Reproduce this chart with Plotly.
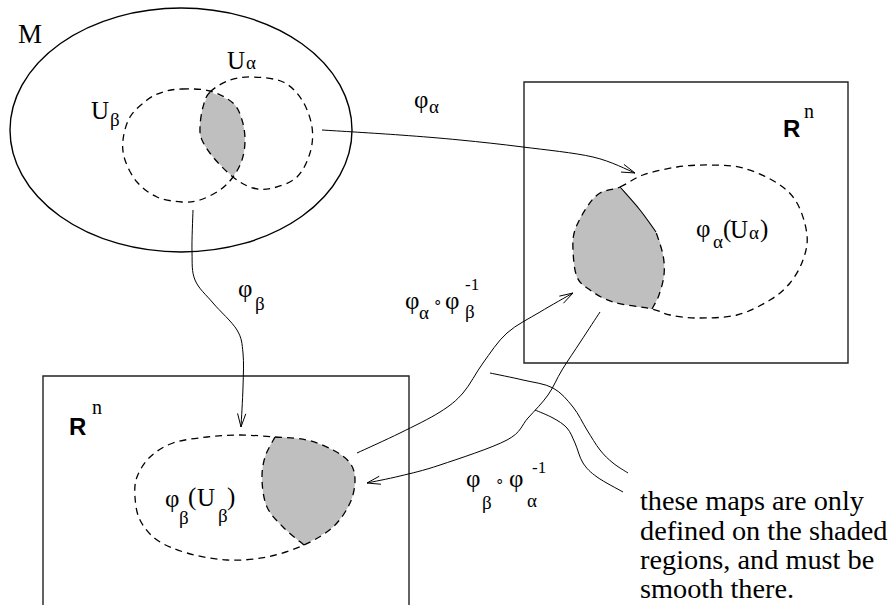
import numpy as np
import plotly.graph_objects as go

W, H = 893, 605

# ---------------- geometry (pixel coords, y down) -------------
M_ELLIPSE = [10, 8, 352, 252]          # x0, y0, x1, y1 of manifold M
BOX_RIGHT = [524, 82, 848, 363]
BOX_LEFT = [43, 376, 409, 640]

U_BETA_X = [182, 210, 233, 242, 245, 242, 233, 220, 200, 182, 157, 137, 125, 123, 130, 147, 163]
U_BETA_Y = [89, 91, 103, 120, 140, 160, 177, 190, 200, 202, 197, 182, 160, 140, 117, 100, 92]

U_ALPHA_X = [210, 230, 253, 283, 302, 312, 310, 297, 273, 253, 233, 213, 202, 200, 203]
U_ALPHA_Y = [92, 80, 77, 82, 100, 127, 153, 177, 188, 188, 177, 157, 140, 127, 107]

LENS_A_X = [210, 203, 200, 202, 213, 233]
LENS_A_Y = [92, 107, 127, 140, 157, 177]
LENS_B_X = [233, 242, 245, 242, 233, 210]
LENS_B_Y = [177, 160, 140, 120, 103, 92]

PHIA_X = [620, 643, 677, 710, 743, 777, 797, 807, 803, 790, 770, 737, 697, 670, 652, 613, 590, 577, 573, 575, 587, 600]
PHIA_Y = [187, 175, 167, 165, 168, 183, 203, 235, 260, 283, 300, 315, 318, 315, 309, 302, 290, 277, 250, 230, 207, 193]
PHIA_SHADE_OUT_X = [620, 600, 587, 575, 573, 577, 590, 613, 652]
PHIA_SHADE_OUT_Y = [187, 193, 207, 230, 250, 277, 290, 302, 309]
PHIA_SHADE_IN_X = [652, 659, 664, 663, 656, 640, 620]
PHIA_SHADE_IN_Y = [309, 295, 275, 255, 232, 210, 187]

PHIB_X = [275, 307, 333, 350, 355, 350, 333, 304, 267, 227, 187, 157, 140, 135, 137, 150, 173, 207, 240]
PHIB_Y = [437, 440, 450, 463, 480, 503, 527, 545, 557, 560, 553, 540, 520, 497, 477, 457, 443, 437, 435]
PHIB_SHADE_OUT_X = [275, 307, 333, 350, 355, 350, 333, 304]
PHIB_SHADE_OUT_Y = [437, 440, 450, 463, 480, 503, 527, 545]
PHIB_SHADE_IN_X = [304, 283, 267, 262, 265, 275]
PHIB_SHADE_IN_Y = [545, 527, 507, 480, 457, 437]

ARROW_PHI_A_X = [322, 400, 460, 523, 593, 635]
ARROW_PHI_A_Y = [130, 135, 140, 147, 157, 173]
ARROW_PHI_B_X = [193, 192, 195, 213, 237, 243, 243, 241]
ARROW_PHI_B_Y = [210, 252, 280, 303, 330, 353, 387, 427]
ARROW_AB_X = [357, 400, 440, 463, 483, 507, 540, 573]
ARROW_AB_Y = [453, 433, 412, 393, 363, 333, 312, 293]
ARROW_BA_X = [600, 581, 562, 548, 528, 507, 440, 400, 367]
ARROW_BA_Y = [312, 341, 370, 395, 418, 440, 465, 476, 483]

POINTER1_X = [490, 523, 553, 573, 587, 600, 613, 628]
POINTER1_Y = [373, 380, 388, 407, 430, 450, 463, 473]
POINTER2_X = [535, 553, 567, 575, 583, 597, 623]
POINTER2_Y = [410, 418, 428, 443, 463, 477, 492]

NOTE_LINES = ["these maps are only", "defined on the shaded",
              "regions, and must be", "smooth there."]
NOTE_X = 639
NOTE_Y = [500, 530, 559.5, 588.5]

SERIF = "Liberation Serif"
SANS = "Liberation Sans"
BIG = 25
SUB = 19
# (text, x-centre, y-centre, size, family)
LABELS = [
    ("M", 30, 34, 27, SERIF),
    ("U", 236, 60, BIG, SERIF), ("α", 251, 62, SUB, SERIF),
    ("U", 99.5, 110, BIG, SERIF), ("β", 114.5, 119, SUB, SERIF),
    ("φ", 421, 99, BIG, SERIF), ("α", 433.5, 106, SUB, SERIF),
    ("<b>R</b>", 791, 128.5, 24, SANS), ("n", 809, 111, 20, SERIF),
    ("<b>R</b>", 77, 426, 24, SANS), ("n", 97, 407, 20, SERIF),
    ("φ", 702.5, 228, BIG, SERIF), ("α", 717.5, 241, SUB, SERIF),
    ("(", 726.5, 229, BIG, SERIF), ("U", 739, 229, BIG, SERIF),
    ("α", 753.5, 232, SUB, SERIF), (")", 763.5, 229, BIG, SERIF),
    ("φ", 245, 288, BIG, SERIF), ("β", 259.5, 303, SUB, SERIF),
    ("φ", 172, 498, BIG, SERIF), ("β", 184, 517, SUB, SERIF),
    ("(", 192, 497, BIG, SERIF), ("U", 206, 497, BIG, SERIF),
    ("β", 223, 515, SUB, SERIF), (")", 231, 497, BIG, SERIF),
    ("φ", 411.5, 300, BIG, SERIF), ("α", 424, 312, SUB, SERIF),
    ("∘", 437.5, 302, 15, SERIF), ("φ", 452, 300, BIG, SERIF),
    ("-1", 472, 284.5, 17, SERIF), ("β", 469.5, 311, SUB, SERIF),
    ("φ", 472.5, 478, BIG, SERIF), ("β", 486.5, 502, SUB, SERIF),
    ("∘", 499.5, 481, 15, SERIF), ("φ", 516, 478, BIG, SERIF),
    ("-1", 538.5, 467, 17, SERIF), ("α", 531.5, 500, SUB, SERIF),
]

SHADE = "#bfbfbf"
INK = "black"


def pts(xs, ys):
    return [np.array([x, y], dtype=float) for x, y in zip(xs, ys)]


def cr_segments(p, closed=False):
    n = len(p)
    segs = []
    rng = range(n) if closed else range(n - 1)
    for i in rng:
        if closed:
            p0, p1, p2, p3 = p[(i - 1) % n], p[i], p[(i + 1) % n], p[(i + 2) % n]
        else:
            p0, p1, p2, p3 = p[max(i - 1, 0)], p[i], p[i + 1], p[min(i + 2, n - 1)]
        c1 = p1 + (p2 - p0) / 6.0
        c2 = p2 - (p3 - p1) / 6.0
        segs.append(f"C{c1[0]:.2f},{c1[1]:.2f} {c2[0]:.2f},{c2[1]:.2f} {p2[0]:.2f},{p2[1]:.2f}")
    return segs


def spline_path(xs, ys, closed=False):
    p = pts(xs, ys)
    s = f"M{p[0][0]:.2f},{p[0][1]:.2f} " + " ".join(cr_segments(p, closed))
    return s + (" Z" if closed else "")


def multi_path(parts):
    first = pts(*parts[0])
    s = f"M{first[0][0]:.2f},{first[0][1]:.2f}"
    for xs, ys in parts:
        s += " " + " ".join(cr_segments(pts(xs, ys)))
    return s + " Z"


shapes = []


def add_path(path, width=1.0, dash="solid", fill=None):
    shapes.append(dict(type="path", xref="x", yref="y", path=path,
                       line=dict(color=INK if width > 0 else "rgba(0,0,0,0)",
                                 width=width, dash=dash),
                       fillcolor=fill if fill else "rgba(0,0,0,0)"))


def add_arrow(xs, ys, width=1.0, head=14, ang=17):
    add_path(spline_path(xs, ys), width=width)
    tip = np.array([xs[-1], ys[-1]], float)
    prev = np.array([xs[-2], ys[-2]], float)
    d = (tip - prev) / np.linalg.norm(tip - prev)
    out = []
    for s in (1, -1):
        a = np.radians(ang) * s
        r = np.array([d[0] * np.cos(a) - d[1] * np.sin(a), d[0] * np.sin(a) + d[1] * np.cos(a)])
        out.append(tip - head * r)
    add_path(f"M{out[0][0]:.2f},{out[0][1]:.2f} L{tip[0]:.2f},{tip[1]:.2f} L{out[1][0]:.2f},{out[1][1]:.2f}",
             width=width)


DASH = "7px,5px"

# shaded regions (fills first)
add_path(multi_path([(LENS_A_X, LENS_A_Y), (LENS_B_X, LENS_B_Y)]), width=0, fill=SHADE)
add_path(multi_path([(PHIA_SHADE_OUT_X, PHIA_SHADE_OUT_Y), (PHIA_SHADE_IN_X, PHIA_SHADE_IN_Y)]), width=0, fill=SHADE)
add_path(multi_path([(PHIB_SHADE_OUT_X, PHIB_SHADE_OUT_Y), (PHIB_SHADE_IN_X, PHIB_SHADE_IN_Y)]), width=0, fill=SHADE)

# manifold and boxes
shapes.append(dict(type="circle", xref="x", yref="y", x0=M_ELLIPSE[0], y0=M_ELLIPSE[1],
                   x1=M_ELLIPSE[2], y1=M_ELLIPSE[3], line=dict(color=INK, width=1.4)))
for b in (BOX_RIGHT, BOX_LEFT):
    shapes.append(dict(type="rect", xref="x", yref="y", x0=b[0], y0=b[1], x1=b[2], y1=b[3],
                       line=dict(color="#222222", width=1.4)))

# dashed outlines
add_path(spline_path(U_BETA_X, U_BETA_Y, closed=True), width=1.3, dash=DASH)
add_path(spline_path(U_ALPHA_X, U_ALPHA_Y, closed=True), width=1.3, dash=DASH)
add_path(spline_path(PHIA_X, PHIA_Y, closed=True), width=1.3, dash=DASH)
add_path(spline_path(PHIA_SHADE_IN_X[:-2], PHIA_SHADE_IN_Y[:-2]), width=1.3, dash=DASH)
add_path(spline_path(PHIA_SHADE_IN_X[-3:], PHIA_SHADE_IN_Y[-3:]), width=1.1)
add_path(spline_path(PHIB_X, PHIB_Y, closed=True), width=1.3, dash=DASH)
add_path(spline_path(PHIB_SHADE_IN_X, PHIB_SHADE_IN_Y), width=1.3, dash=DASH)

# arrows
add_arrow(ARROW_PHI_A_X, ARROW_PHI_A_Y)
add_arrow(ARROW_PHI_B_X, ARROW_PHI_B_Y)
add_arrow(ARROW_AB_X, ARROW_AB_Y)
add_arrow(ARROW_BA_X, ARROW_BA_Y)
add_path(spline_path(POINTER1_X, POINTER1_Y), width=1.0)
add_path(spline_path(POINTER2_X, POINTER2_Y), width=1.0)

annotations = []
for text, x, y, size, fam in LABELS:
    annotations.append(dict(x=x, y=y, xref="x", yref="y", text=text, showarrow=False,
                            xanchor="center", yanchor="middle", borderpad=0,
                            font=dict(family=fam, size=size, color=INK)))
for line, y in zip(NOTE_LINES, NOTE_Y):
    annotations.append(dict(x=NOTE_X, y=y, xref="x", yref="y", text=line, showarrow=False,
                            xanchor="left", yanchor="middle", borderpad=0,
                            font=dict(family=SERIF, size=28.3, color=INK)))

fig = go.Figure()
fig.add_trace(go.Scatter(x=[0, W], y=[0, H], mode="markers", marker=dict(opacity=0),
                         hoverinfo="skip", showlegend=False))
fig.update_layout(
    width=W, height=H, autosize=False,
    margin=dict(l=0, r=0, t=0, b=0),
    paper_bgcolor="white", plot_bgcolor="white",
    xaxis=dict(range=[0, W], visible=False, fixedrange=True),
    yaxis=dict(range=[H, 0], visible=False, fixedrange=True),
    shapes=shapes, annotations=annotations,
)
fig.write_html("out.html", config={"displayModeBar": False, "staticPlot": True},
               post_script="document.body.style.margin='0';document.body.style.overflow='hidden';")
